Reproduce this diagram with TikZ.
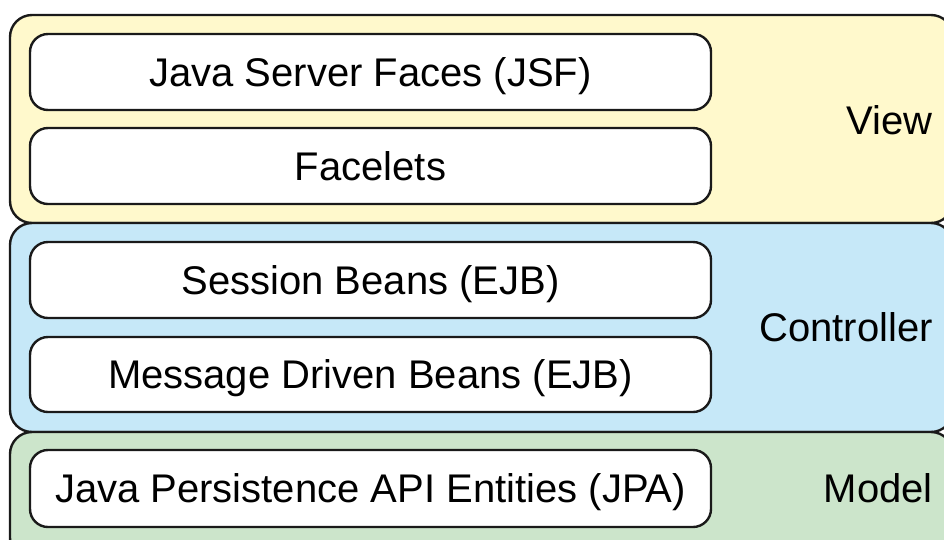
\documentclass[tikz,border=0pt]{standalone}
\usepackage{fontspec}
\setmainfont{Liberation Sans}
\definecolor{viewfill}{HTML}{FFF9CC}
\definecolor{ctrlfill}{HTML}{C6E8F8}
\definecolor{modelfill}{HTML}{CCE5CB}
\definecolor{edge}{HTML}{1A1A1A}
\begin{document}
\begin{tikzpicture}[x=1pt,y=-1pt,
  layer/.style={draw=edge, line width=2.4pt, rounded corners=22pt, rectangle, inner sep=0pt},
  tech/.style={draw=edge, line width=2.4pt, rounded corners=18pt, rectangle, fill=white,
    minimum width=681pt, inner sep=0pt, text height=28.6pt, text depth=0pt,
    font=\fontsize{40}{46}\selectfont},
  lbl/.style={inner sep=0pt, anchor=east, text height=28.6pt, text depth=0pt,
    font=\fontsize{40}{46}\selectfont}]
\useasboundingbox (0,0) rectangle (944,539);
\clip (0,0) rectangle (944,539);
\node[layer, fill=viewfill, minimum width=943pt, minimum height=208pt] (view) at (481.5,119) {};
\node[layer, fill=ctrlfill, minimum width=943pt, minimum height=209pt] (ctrl) at (481.5,327.5) {};
\node[layer, fill=modelfill, minimum width=943pt, minimum height=128pt] (model) at (481.5,496) {};
\node[tech, minimum height=76pt] (jsf) at (370.5,72) {Java Server Faces (JSF)};
\node[tech, minimum height=76pt] (facelets) at (370.5,166) {Facelets};
\node[tech, minimum height=76pt] (session) at (370.5,280) {Session Beans (EJB)};
\node[tech, minimum height=75pt] (mdb) at (370.5,374.5) {Message Driven Beans (EJB)};
\node[tech, minimum height=77pt] (jpa) at (370.5,488.5) {Java Persistence API Entities (JPA)};
\node[lbl] (viewlbl) at (933,120) {View};
\node[lbl] (ctrllbl) at (933,327) {Controller};
\node[lbl] (modellbl) at (933,488) {Model};
\end{tikzpicture}
\end{document}
